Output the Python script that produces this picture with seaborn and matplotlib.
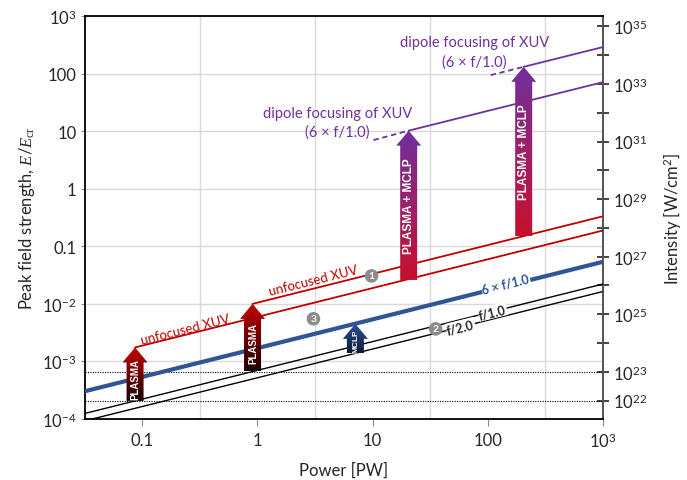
import numpy as np
import pandas as pd
import seaborn as sns
import matplotlib.pyplot as plt
from matplotlib.patches import Polygon
from matplotlib.colors import LinearSegmentedColormap
from matplotlib.ticker import FixedLocator, FixedFormatter, NullLocator

sns.set_style("white")
plt.rcParams['font.family'] = ['Lato', 'DejaVu Sans']
plt.rcParams['mathtext.fontset'] = 'custom'
plt.rcParams['mathtext.rm'] = 'Lato'
plt.rcParams['mathtext.it'] = 'Liberation Serif:italic'
plt.rcParams['mathtext.sf'] = 'Liberation Serif'

# field lines, endpoints (power in PW, E/Ecr)
line_names = ['f/2.0', 'f/1.0', '6 x f/1.0', 'unfocused A', 'unfocused B', 'dipole A', 'dipole B']
line_p0 = [0.032, 0.032, 0.032, 0.087, 0.91, 20.6, 205]
line_p1 = [1000, 1000, 1000, 1000, 1000, 1000, 1000]
line_e0 = [9.3e-5, 1.25e-4, 3.04e-4, 1.75e-3, 0.0100, 10.2, 131]
line_e1 = [0.0164, 0.0221, 0.0538, 0.188, 0.332, 71, 289]
line_colors = ['black', 'black', '#2F5597', '#C00000', '#C00000', '#7030A0', '#7030A0']
line_widths = [1.0, 1.0, 3.0, 1.3, 1.3, 1.3, 1.3]

# dashed extensions of the dipole lines
dash_p0 = [10.2, 106]
dash_p1 = [20.6, 205]
dash_e0 = [7.0, 94]
dash_e1 = [10.2, 131]

# arrows
arrow_labels = ['PLASMA', 'PLASMA', 'MCLP', 'PLASMA + MCLP', 'PLASMA + MCLP']
arrow_p = [0.087, 0.91, 7.1, 20.6, 205]
arrow_e_lo = [2.06e-4, 6.7e-4, 1.4e-3, 0.026, 0.15]
arrow_e_hi = [1.75e-3, 0.0100, 4.5e-3, 10.2, 131]
arrow_top = ['#C80000', '#C80000', '#2F5597', '#7030A0', '#7030A0']
arrow_bot = ['#1A0000', '#1A0000', '#0B1836', '#C8102E', '#C8102E']
arrow_fs = [7.0, 7.0, 6.0, 8.5, 8.5]
arrow_shift = [-0.3, -0.3, -0.15, 0.0, 0.0]  # text offset along the arrow, in head lengths

# intensity reference levels (W/cm^2) drawn as dotted lines
ref_intensity = [1e23, 1e22]
I_CR = 2.3e29  # intensity at E = Ecr

fig = plt.figure(figsize=(6.87, 4.81), dpi=100)
ax = fig.add_axes([85 / 687, 1 - 420 / 481, 518 / 687, 403 / 481])
ax.set(xscale='log', yscale='log')
xlim = (0.032, 1000)
ylim = (1e-4, 1e3)

# grid
ax.xaxis.set_minor_locator(FixedLocator([0.316, 3.16, 31.6, 316]))
ax.grid(which='minor', axis='x', color='#d9d9d9', lw=1)
ax.grid(which='major', axis='y', color='#d9d9d9', lw=1)
ax.grid(which='major', axis='x', visible=False)

for I in ref_intensity:
    ax.axhline(np.sqrt(I / I_CR), color='black', ls=(0, (1, 1.2)), lw=0.8, zorder=2)

for i in range(len(line_names)):
    df = pd.DataFrame({'power': [line_p0[i], line_p1[i]], 'field': [line_e0[i], line_e1[i]]})
    sns.lineplot(data=df, x='power', y='field', color=line_colors[i], lw=line_widths[i], ax=ax, zorder=3)
for i in range(len(dash_p0)):
    df = pd.DataFrame({'power': [dash_p0[i], dash_p1[i]], 'field': [dash_e0[i], dash_e1[i]]})
    sns.lineplot(data=df, x='power', y='field', color='#7030A0', lw=1.3, ls=(0, (3, 2)), ax=ax, zorder=3)

ax.set_xlim(*xlim)
ax.set_ylim(*ylim)

# ticks and labels
ax.xaxis.set_major_locator(FixedLocator([0.1, 1, 10, 100, 1000]))
ax.xaxis.set_major_formatter(FixedFormatter(['0.1', '1', '10', '100', '10$^{3}$']))
ax.yaxis.set_major_locator(FixedLocator([1e-4, 1e-3, 1e-2, 0.1, 1, 10, 100, 1000]))
ax.yaxis.set_major_formatter(FixedFormatter(['10$^{-4}$', '10$^{-3}$', '10$^{-2}$', '0.1', '1', '10', '100', '10$^{3}$']))
ax.yaxis.set_minor_locator(NullLocator())
ax.tick_params(axis='x', which='major', bottom=True, direction='out', length=5, color='#888888', labelsize=12, pad=4)
ax.tick_params(axis='x', which='minor', length=0)
ax.tick_params(axis='y', which='major', left=True, direction='out', length=3, color='#888888', labelsize=12, pad=3)
for s in ax.spines.values():
    s.set_color('black')
    s.set_linewidth(1.3)
ax.spines['right'].set_color('#555555')
ax.set_xlabel('Power [PW]', fontsize=12, labelpad=8)
ax.set_ylabel(r'Peak field strength, $\mathit{E}/\mathit{E}_{\mathsf{cr}}$', fontsize=12, labelpad=4)

sec = ax.secondary_yaxis('right', functions=(lambda e: I_CR * np.asarray(e) ** 2,
                                             lambda i: np.sqrt(np.asarray(i) / I_CR)))
sec.set_yscale('log')
dec = list(range(22, 36))
shown = {22, 23, 25, 27, 29, 31, 33, 35}
sec.yaxis.set_major_locator(FixedLocator([10.0 ** d for d in dec]))
sec.yaxis.set_major_formatter(FixedFormatter(['10$^{%d}$' % d if d in shown else '' for d in dec]))
sec.yaxis.set_minor_locator(NullLocator())
sec.tick_params(direction='inout', length=8, width=1.3, color='#333333', labelsize=12, pad=3)
sec.spines['right'].set_color('#555555')
sec.spines['right'].set_linewidth(1.3)
sec.set_ylabel('Intensity [W/cm$^{2}$]', fontsize=12, labelpad=10)

# gradient arrows on an overlay axes in axes fraction coordinates
ov = fig.add_axes(ax.get_position(), facecolor='none')
ov.set_xlim(0, 1)
ov.set_ylim(0, 1)
ov.axis('off')
to_frac = ax.transData + ax.transAxes.inverted()
bw = 8.5 / 518
hw = 12.5 / 518
hl = 15 / 403
grad = np.linspace(0, 1, 256).reshape(-1, 1)
for i in range(len(arrow_p)):
    (xa, y0), (_, y1) = to_frac.transform([(arrow_p[i], arrow_e_lo[i]), (arrow_p[i], arrow_e_hi[i])])
    pts = [(xa - bw, y0), (xa + bw, y0), (xa + bw, y1 - hl), (xa + hw, y1 - hl),
           (xa, y1), (xa - hw, y1 - hl), (xa - bw, y1 - hl)]
    patch = Polygon(pts, closed=True, fc='none', ec='none')
    ov.add_patch(patch)
    cmap = LinearSegmentedColormap.from_list('g%d' % i, [arrow_bot[i], arrow_top[i]])
    im = ov.imshow(grad, cmap=cmap, origin='lower', extent=(xa - hw, xa + hw, y0, y1), aspect='auto')
    im.set_clip_path(patch)
    yc = (y0 + y1) / 2 + arrow_shift[i] * hl
    ov.text(xa + 0.5 / 518, yc, arrow_labels[i], rotation=90, ha='center', va='center',
            color='white', fontsize=arrow_fs[i], fontweight='bold', family='Liberation Sans', zorder=5)
ov.set_xlim(0, 1)
ov.set_ylim(0, 1)

# annotations
ang = 14
ax.text(0.236, 3.68e-3, 'unfocused XUV', color='#C00000', fontsize=9.5, rotation=ang, ha='center', va='center')
ax.text(3.07, 0.0261, 'unfocused XUV', color='#C00000', fontsize=9.5, rotation=ang, ha='center', va='center')
box = dict(boxstyle='square,pad=0.05', fc='white', ec='none')
ax.text(58, 3.99e-3, 'f/2.0', fontsize=9, fontweight='bold', rotation=ang, ha='center', va='center', bbox=box, zorder=5)
ax.text(110, 7.26e-3, 'f/1.0', fontsize=9, fontweight='bold', rotation=ang, ha='center', va='center', bbox=box, zorder=5)
ax.text(143, 0.0222, '6 × f/1.0', fontsize=9, fontweight='bold', color='#2F5597', rotation=ang,
        ha='center', va='center', bbox=box, zorder=5)
circ = dict(boxstyle='circle,pad=0.22', fc='#8C8C8C', ec='none')
for p, e, n in [(9.8, 0.0306, '1'), (35.3, 3.68e-3, '2'), (3.07, 5.5e-3, '3')]:
    ax.text(p, e, n, fontsize=7.5, fontweight='bold', color='white', ha='center', va='center', bbox=circ, zorder=6)
for p, e1, e2 in [(4.96, 20.7, 9.7), (77, 354, 159)]:
    ax.text(p, e1, 'dipole focusing of XUV', color='#7030A0', fontsize=10.5, ha='center', va='center')
    ax.text(p, e2, '(6 × f/1.0)', color='#7030A0', fontsize=10.5, ha='center', va='center')

fig.savefig('out.png', dpi=100)
